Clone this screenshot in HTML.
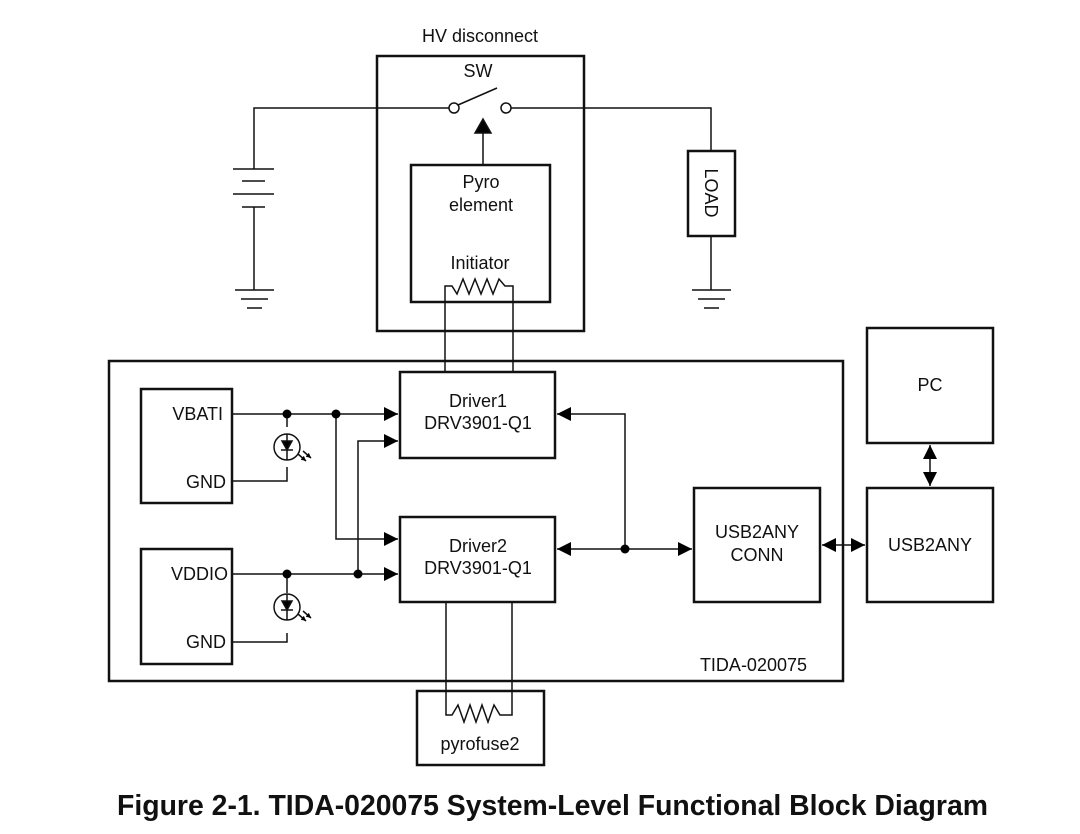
<!DOCTYPE html>
<html><head><meta charset="utf-8"><style>
html,body{margin:0;padding:0;background:#fff;}
svg{display:block;}
text{font-family:"Liberation Sans",Arial,sans-serif;fill:#111;}
</style></head><body>
<svg width="1080" height="834" viewBox="0 0 1080 834" xmlns="http://www.w3.org/2000/svg">
<defs>
<marker id="a" viewBox="0 0 10 10" refX="10" refY="5" markerWidth="14" markerHeight="14" markerUnits="userSpaceOnUse" orient="auto"><path d="M0,0L10,5L0,10z" fill="#000"/></marker>
<marker id="s" viewBox="0 0 10 10" refX="10" refY="5" markerWidth="5" markerHeight="5" markerUnits="userSpaceOnUse" orient="auto"><path d="M0,0L10,5L0,10z" fill="#000"/></marker>
</defs>
<g fill="none" stroke="#111" stroke-width="1.5">
<g stroke-width="2.5">
<rect x="377" y="56" width="207" height="275"/>
<rect x="411" y="165" width="139" height="137"/>
<rect x="688" y="151" width="47" height="85"/>
<rect x="109" y="361" width="734" height="320"/>
<rect x="141" y="389" width="91" height="114"/>
<rect x="141" y="549" width="91" height="115"/>
<rect x="400" y="372" width="155" height="86"/>
<rect x="400" y="517" width="155" height="85"/>
<rect x="694" y="488" width="126" height="114"/>
<rect x="867" y="328" width="126" height="115"/>
<rect x="867" y="488" width="126" height="114"/>
<rect x="417" y="691" width="127" height="74"/>
</g>
<path d="M254,169V108H449"/>
<circle cx="454" cy="108" r="5" fill="#fff"/>
<path d="M458,105L497,88"/>
<circle cx="506" cy="108" r="5" fill="#fff"/>
<path d="M511,108H711V151"/>
<path d="M711,236V290"/>
<path d="M233,169H274M242,181H265M233,194H274M242,207H265"/>
<path d="M254,207V290"/>
<path d="M235,290H274M241,299H268M247,308H262"/>
<path d="M692,290H731M698,299H725M704,308H719"/>
<path d="M483,164V132"/>
<path d="M475,133L483,119L491,133z" fill="#000"/>
<path d="M445,371V286H452L457,294L463,279L469,294L475,279L481,294L487,279L493,294L499,279L505,286H513V371"/>
<path d="M446,602V715H452L458,705L464,722L470,705L476,722L482,705L488,722L494,705L500,715H512V602"/>
<path d="M232,414H398" marker-end="url(#a)"/>
<path d="M287,414V427M287,467V481H232"/>
<circle cx="287" cy="447" r="13"/>
<path d="M287,434V460M281,450H293"/><path d="M282,441H292L287,450z" fill="#000"/>
<path d="M298,454L306,461" marker-end="url(#s)"/><path d="M303,451L311,458" marker-end="url(#s)"/>
<path d="M336,414V539H398" marker-end="url(#a)"/>
<path d="M358,574V441H398" marker-end="url(#a)"/>
<path d="M232,574H398" marker-end="url(#a)"/>
<path d="M287,574V593M287,633V642H232"/>
<circle cx="287" cy="607" r="13"/>
<path d="M287,594V620M281,610H293"/><path d="M282,601H292L287,610z" fill="#000"/>
<path d="M298,614L306,621" marker-end="url(#s)"/><path d="M303,611L311,618" marker-end="url(#s)"/>
<path d="M625,549V414H557" marker-end="url(#a)"/>
<path d="M625,549H557" marker-end="url(#a)"/>
<path d="M625,549H692" marker-end="url(#a)"/>
<path d="M840,545H822" marker-end="url(#a)"/>
<path d="M840,545H865" marker-end="url(#a)"/>
<path d="M930,465V445" marker-end="url(#a)"/>
<path d="M930,465V486" marker-end="url(#a)"/>
</g>
<g fill="#000">
<circle cx="287" cy="414" r="4.5"/><circle cx="336" cy="414" r="4.5"/>
<circle cx="287" cy="574" r="4.5"/><circle cx="358" cy="574" r="4.5"/>
<circle cx="625" cy="549" r="4.5"/>
</g>
<g font-size="18">
<text x="480" y="42" text-anchor="middle">HV disconnect</text>
<text x="478" y="77" text-anchor="middle">SW</text>
<text x="481" y="188" text-anchor="middle">Pyro</text>
<text x="481" y="211" text-anchor="middle">element</text>
<text x="480" y="269" text-anchor="middle">Initiator</text>
<text transform="translate(705,193) rotate(90)" text-anchor="middle">LOAD</text>
<text x="223" y="420" text-anchor="end">VBATI</text>
<text x="226" y="488" text-anchor="end">GND</text>
<text x="228" y="580" text-anchor="end">VDDIO</text>
<text x="226" y="648" text-anchor="end">GND</text>
<text x="478" y="407" text-anchor="middle">Driver1</text>
<text x="478" y="429" text-anchor="middle">DRV3901-Q1</text>
<text x="478" y="552" text-anchor="middle">Driver2</text>
<text x="478" y="574" text-anchor="middle">DRV3901-Q1</text>
<text x="757" y="538" text-anchor="middle">USB2ANY</text>
<text x="757" y="561" text-anchor="middle">CONN</text>
<text x="930" y="391" text-anchor="middle">PC</text>
<text x="930" y="551" text-anchor="middle">USB2ANY</text>
<text x="807" y="671" text-anchor="end">TIDA-020075</text>
<text x="480" y="750" text-anchor="middle">pyrofuse2</text>
</g>
<text x="117" y="815" font-size="29" font-weight="bold" textLength="871" lengthAdjust="spacingAndGlyphs">Figure 2-1. TIDA-020075 System-Level Functional Block Diagram</text>
</svg>
</body></html>
